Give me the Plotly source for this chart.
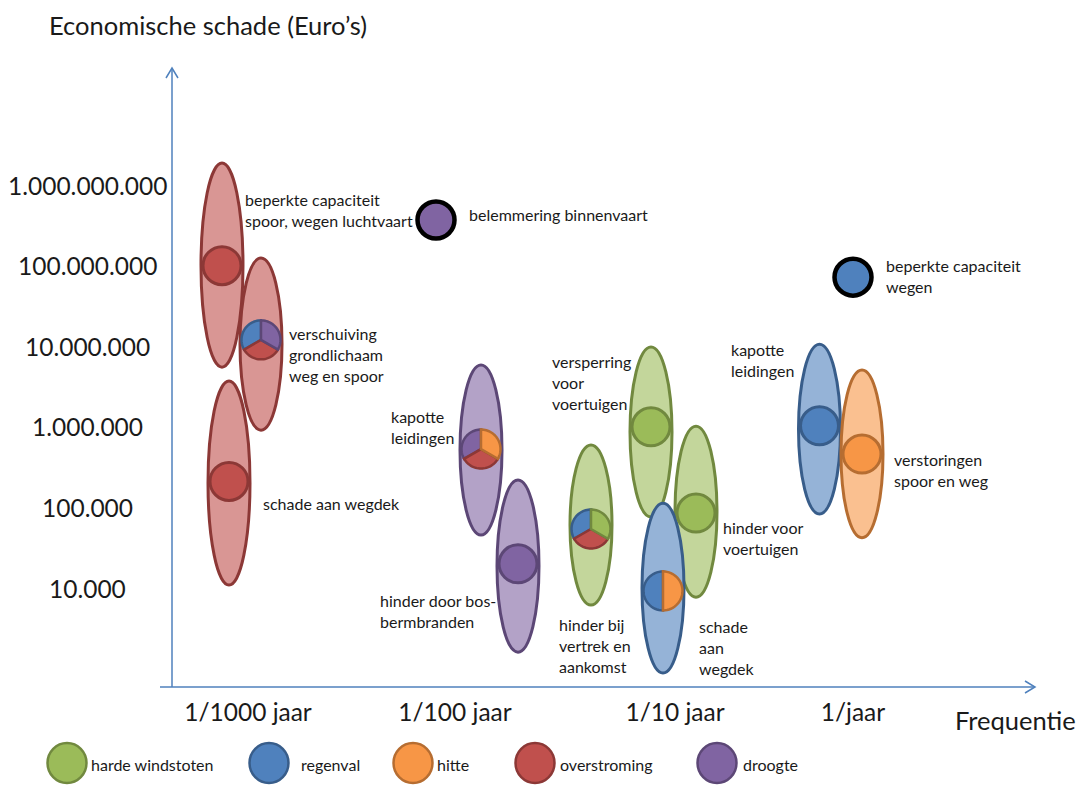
import math
import plotly.graph_objects as go

# ---------------- data ----------------
CATEGORIES = ["harde windstoten", "regenval", "hitte", "overstroming", "droogte"]

# frequency axis (position along the frequency axis, ~log10 of events per year)
X_TICK_VALS = [-3.0, -1.965, -0.865, 0.025]
X_TICK_TEXT = ["1/1000 jaar", "1/100 jaar", "1/10 jaar", "1/jaar"]

Y_TICK_VALS = [1e9, 1e8, 1e7, 1e6, 1e5, 1e4]
Y_TICK_TEXT = ["1.000.000.000", "100.000.000", "10.000.000", "1.000.000", "100.000", "10.000"]

# effects with a range (ellipse) and a central estimate (circle)
EFF_LABEL = [
    "beperkte capaciteit<br>spoor, wegen luchtvaart",
    "verschuiving<br>grondlichaam<br>weg en spoor",
    "schade aan wegdek",
    "kapotte<br>leidingen",
    "hinder door bos-<br>bermbranden",
    "hinder bij<br>vertrek en<br>aankomst",
    "versperring<br>voor<br>voertuigen",
    "hinder voor<br>voertuigen",
    "schade<br>aan<br>wegdek",
    "kapotte<br>leidingen",
    "verstoringen<br>spoor en weg",
]
EFF_RANGE_CAT = ["overstroming", "overstroming", "overstroming", "droogte", "droogte",
                 "harde windstoten", "harde windstoten", "harde windstoten",
                 "regenval", "regenval", "hitte"]
EFF_FREQ = [-3.13, -2.935, -3.095, -1.835, -1.65, -1.285, -0.985, -0.76, -0.925, -0.1425, 0.07]
EFF_LOW = [5.5e6, 9.1e5, 1.09e4, 4.55e4, 1.6e3, 6.15e3, 7.6e4, 7.7e3, 8.8e2, 8.3e4, 4.2e4]
EFF_HIGH = [1.87e9, 1.24e8, 3.7e6, 5.85e6, 2.19e5, 5.94e5, 9.8e6, 1.02e6, 1.13e5, 1.06e7, 5.07e6]
EFF_MID = [1.0e8, 1.2e7, 2.1e5, 5.3e5, 2.0e4, 5.4e4, 1.0e6, 8.5e4, 9.2e3, 1.03e6, 4.6e5]
# causes (climate factors) contributing to the central estimate, counter-clockwise from top
EFF_CAUSES = [
    ["overstroming"],
    ["regenval", "overstroming", "droogte"],
    ["overstroming"],
    ["droogte", "overstroming", "hitte"],
    ["droogte"],
    ["regenval", "overstroming", "harde windstoten"],
    ["harde windstoten"],
    ["harde windstoten"],
    ["regenval", "hitte"],
    ["regenval"],
    ["hitte"],
]

# single point effects (no range)
PT_LABEL = ["belemmering binnenvaart", "beperkte capaciteit<br>wegen"]
PT_CAT = ["droogte", "regenval"]
PT_FREQ = [-2.06, 0.025]
PT_VAL = [3.68e8, 7.2e7]

# ---------------- styles ----------------
FILL = {"harde windstoten": "#9BBB59", "regenval": "#4F81BD", "hitte": "#F79646",
        "overstroming": "#C0504D", "droogte": "#8064A2"}
LIGHT = {"harde windstoten": "#C3D69B", "regenval": "#95B3D7", "hitte": "#FAC090",
         "overstroming": "#D99694", "droogte": "#B3A2C7"}
EDGE = {"harde windstoten": "#71893F", "regenval": "#385D8A", "hitte": "#B66D31",
        "overstroming": "#8C3836", "droogte": "#5C4776"}
AXIS_COLOR = "#4F81BD"
TXT = "#1a1a1a"
FONT = "Lato, 'Open Sans', sans-serif"

PAGE_OFF = 8  # the page body margin that offsets the figure in the browser
W, H = 1090, 785
ML, MR, MT, MB = 160 - PAGE_OFF, 50 + PAGE_OFF, 68 - PAGE_OFF, 98 + PAGE_OFF
PW, PH = W - ML - MR, H - MT - MB


def px_x(px):
    return (px - PAGE_OFF - ML) / PW


def px_y(py):
    return (H - MB - (py - PAGE_OFF)) / PH


# label placement: (xanchor, xshift, yshift) relative to the central estimate
EFF_LABEL_POS = [("left", 21, 56), ("left", 26, -15), ("left", 32, -22), ("right", -25, 22),
                 ("right", -20, -47), ("left", -34, -117), ("right", -18, 44), ("left", 25, -25),
                 ("left", 34, -57), ("right", -24, 66), ("left", 30, -16)]
PT_LABEL_POS = [("left", 31, 6), ("left", 31, 1)]

LEGEND_CIRCLE_X = [67, 269, 413, 535, 717]
LEGEND_TEXT_X = [89, 299, 435, 558, 741]
LEGEND_Y = 763

ELL_HALF_W = 21
PIE_R = 19.5

fig = go.Figure()
shapes = []
annotations = []

# ellipses (ranges)
for cat, x, lo, hi in zip(EFF_RANGE_CAT, EFF_FREQ, EFF_LOW, EFF_HIGH):
    shapes.append(dict(type="circle", xref="x", yref="y", xsizemode="pixel", xanchor=x,
                       x0=-ELL_HALF_W, x1=ELL_HALF_W, y0=lo, y1=hi, layer="below",
                       fillcolor=LIGHT[cat], line=dict(color=EDGE[cat], width=3)))


def wedge_path(a0, a1, r, n=30):
    parts = ["M 0 0"]
    for k in range(n + 1):
        a = math.radians(a0 + (a1 - a0) * k / n)
        parts.append(f"L {r * math.cos(a):.2f} {r * math.sin(a):.2f}")
    parts.append("Z")
    return " ".join(parts)


# central estimates: single-cause as markers, multi-cause as pie wedges
mx, my, mcol, medge = [], [], [], []
for causes, x, y in zip(EFF_CAUSES, EFF_FREQ, EFF_MID):
    if len(causes) == 1:
        mx.append(x); my.append(y)
        mcol.append(FILL[causes[0]]); medge.append(EDGE[causes[0]])
    else:
        step = 360.0 / len(causes)
        for i, c in enumerate(causes):
            a0 = 90 + i * step
            shapes.append(dict(type="path", xref="x", yref="y", xsizemode="pixel",
                               ysizemode="pixel", xanchor=x, yanchor=y,
                               path=wedge_path(a0, a0 + step, PIE_R), layer="below",
                               fillcolor=FILL[c], line=dict(color=EDGE[c], width=2.5)))

fig.add_trace(go.Scatter(x=mx, y=my, mode="markers", hoverinfo="skip", showlegend=False,
                         marker=dict(size=38, color=mcol, line=dict(color=medge, width=3))))
fig.add_trace(go.Scatter(x=PT_FREQ, y=PT_VAL, mode="markers", hoverinfo="skip", showlegend=False,
                         marker=dict(size=37, color=[FILL[c] for c in PT_CAT],
                                     line=dict(color="black", width=4.5))))

LABEL_SIZE = 16
# labels
for lab, x, y, (xa, xs, ys) in zip(EFF_LABEL, EFF_FREQ, EFF_MID, EFF_LABEL_POS):
    annotations.append(dict(x=x, y=math.log10(y), xref="x", yref="y", text=lab, showarrow=False,
                            xanchor=xa, yanchor="middle", align="left", xshift=xs, yshift=ys,
                            font=dict(size=LABEL_SIZE, color=TXT)))
for lab, x, y, (xa, xs, ys) in zip(PT_LABEL, PT_FREQ, PT_VAL, PT_LABEL_POS):
    annotations.append(dict(x=x, y=math.log10(y), xref="x", yref="y", text=lab, showarrow=False,
                            xanchor=xa, yanchor="middle", align="left", xshift=xs, yshift=ys,
                            font=dict(size=LABEL_SIZE, color=TXT)))

# y tick labels (centred under each other)
for v, t in zip(Y_TICK_VALS, Y_TICK_TEXT):
    annotations.append(dict(x=px_x(87), y=math.log10(v), xref="paper", yref="y", text=t,
                            showarrow=False, xanchor="center", yanchor="middle",
                            font=dict(size=24.5, color=TXT)))

# axis titles
annotations.append(dict(x=px_x(208), y=px_y(25), xref="paper", yref="paper",
                        text="Economische schade (Euro’s)", showarrow=False, borderpad=0,
                        xanchor="center", yanchor="middle", font=dict(size=25.5, color=TXT)))
annotations.append(dict(x=px_x(1015), y=px_y(720), xref="paper", yref="paper",
                        text="Frequentie", showarrow=False,
                        xanchor="center", yanchor="middle", font=dict(size=25.5, color=TXT)))

# axes with arrows
yax_x = px_x(172)
xax_end = px_x(1035)
shapes.append(dict(type="line", xref="paper", yref="paper", x0=yax_x, x1=yax_x, y0=0, y1=1,
                   line=dict(color=AXIS_COLOR, width=1.5)))
shapes.append(dict(type="path", xref="paper", yref="paper", xsizemode="pixel", ysizemode="pixel",
                   xanchor=yax_x, yanchor=1, path="M -6 -10 L 0 0 L 6 -10",
                   line=dict(color=AXIS_COLOR, width=1.5)))
shapes.append(dict(type="line", xref="paper", yref="paper", x0=0, x1=xax_end, y0=0, y1=0,
                   line=dict(color=AXIS_COLOR, width=1.5)))
shapes.append(dict(type="path", xref="paper", yref="paper", xsizemode="pixel", ysizemode="pixel",
                   xanchor=xax_end, yanchor=0, path="M -10 6 L 0 0 L -10 -6",
                   line=dict(color=AXIS_COLOR, width=1.5)))

# legend
for cat, cx, tx in zip(CATEGORIES, LEGEND_CIRCLE_X, LEGEND_TEXT_X):
    shapes.append(dict(type="circle", xref="paper", yref="paper", xsizemode="pixel",
                       ysizemode="pixel", xanchor=px_x(cx), yanchor=px_y(LEGEND_Y),
                       x0=-19.5, x1=19.5, y0=-20, y1=20, fillcolor=FILL[cat],
                       line=dict(color=EDGE[cat], width=2.5)))
    annotations.append(dict(x=px_x(tx), y=px_y(LEGEND_Y + 1), xref="paper", yref="paper",
                            text=cat, showarrow=False, xanchor="left", yanchor="middle",
                            font=dict(size=16, color=TXT)))

fig.update_layout(
    width=W, height=H, margin=dict(l=ML, r=MR, t=MT, b=MB, autoexpand=False),
    paper_bgcolor="white", plot_bgcolor="white",
    font=dict(family=FONT, color=TXT),
    showlegend=False,
    shapes=shapes, annotations=annotations,
    xaxis=dict(range=[-3.44, 0.96], showgrid=False, zeroline=False, showline=False,
               tickvals=X_TICK_VALS, ticktext=X_TICK_TEXT, ticks="",
               tickfont=dict(size=24.5, color=TXT), ticklabelstandoff=8, fixedrange=True),
    yaxis=dict(type="log", range=[2.772, 10.452], showgrid=False, zeroline=False,
               showline=False, showticklabels=False, ticks="", fixedrange=True),
)

fig.write_html("out.html")
